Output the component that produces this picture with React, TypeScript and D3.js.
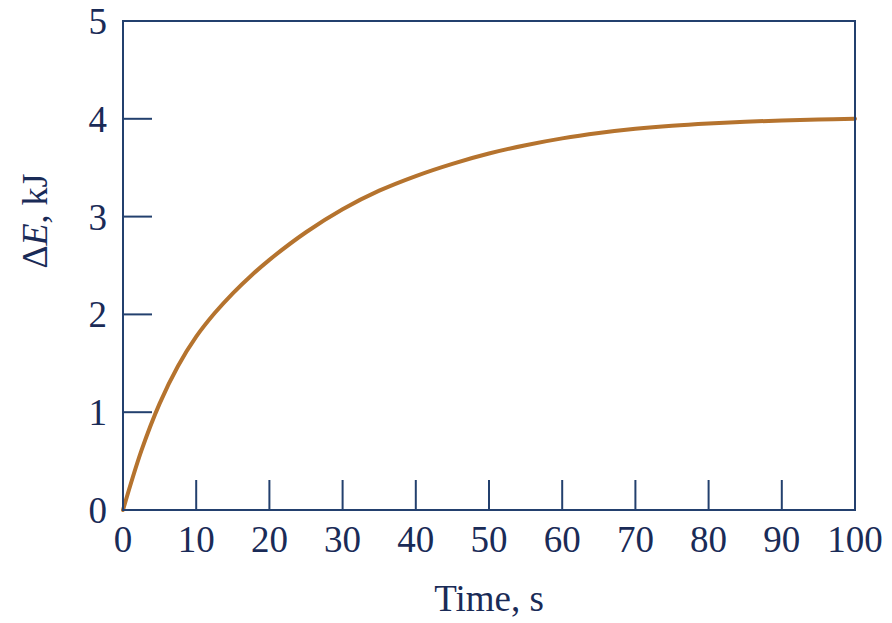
import React from "react";
import * as d3 from "d3";

const timeValues = [0, 2.5, 5, 7.5, 10, 12.5, 15, 17.5, 20, 25, 30, 35, 40, 45, 50, 55, 60, 65, 70, 75, 80, 85, 90, 95, 100];
const energyValues = [0, 0.604, 1.088, 1.47, 1.772, 2.011, 2.216, 2.396, 2.558, 2.84, 3.075, 3.265, 3.415, 3.54, 3.645, 3.73, 3.8, 3.855, 3.898, 3.93, 3.953, 3.97, 3.983, 3.993, 4.0];
const xTicks = [0, 10, 20, 30, 40, 50, 60, 70, 80, 90, 100];
const yTicks = [0, 1, 2, 3, 4, 5];

const W = 892;
const H = 623;
const M = { left: 123, right: 855, top: 21, bottom: 510 };
const AXIS = "#23406e";
const TEXT = "#1a2b57";
const CURVE = "#b5732e";
const FONT = "'Liberation Serif', 'Times New Roman', serif";

export default function App() {
  const x = d3.scaleLinear().domain([0, 100]).range([M.left, M.right]);
  const y = d3.scaleLinear().domain([0, 5]).range([M.bottom, M.top]);
  const pts: [number, number][] = timeValues.map((t, i) => [t, energyValues[i]]);
  const line = d3
    .line<[number, number]>()
    .x((d) => x(d[0]))
    .y((d) => y(d[1]))
    .curve(d3.curveCatmullRom.alpha(0.5));

  return (
    <svg
      width={W}
      height={H}
      style={{ position: "absolute", left: 0, top: 0, background: "#fff" }}
      fontFamily={FONT}
    >
      <rect x={0} y={0} width={W} height={H} fill="#fff" />
      {xTicks.filter((t) => t > 0 && t < 100).map((t) => (
        <line key={"xt" + t} x1={x(t)} x2={x(t)} y1={M.bottom} y2={M.bottom - 30} stroke={AXIS} strokeWidth={2} />
      ))}
      {yTicks.filter((t) => t > 0 && t < 5).map((t) => (
        <line key={"yt" + t} x1={M.left} x2={M.left + 29} y1={y(t)} y2={y(t)} stroke={AXIS} strokeWidth={2} />
      ))}
      <path d={line(pts) || ""} fill="none" stroke={CURVE} strokeWidth={4} strokeLinecap="round" />
      <rect
        x={M.left}
        y={M.top}
        width={M.right - M.left}
        height={M.bottom - M.top}
        fill="none"
        stroke={AXIS}
        strokeWidth={2}
      />
      {xTicks.map((t) => (
        <text key={"xl" + t} x={x(t)} y={552} textAnchor="middle" fontSize={37} fill={TEXT}>
          {t}
        </text>
      ))}
      {yTicks.map((t) => (
        <text key={"yl" + t} x={107} y={y(t)} dy="0.35em" textAnchor="end" fontSize={37} fill={TEXT}>
          {t}
        </text>
      ))}
      <text x={x(50)} y={611} textAnchor="middle" fontSize={37} fill={TEXT}>
        Time, s
      </text>
      <text transform={`translate(47, 221) rotate(-90)`} textAnchor="middle" fontSize={36} fill={TEXT}>
        Δ<tspan fontStyle="italic">E</tspan>, kJ
      </text>
    </svg>
  );
}
